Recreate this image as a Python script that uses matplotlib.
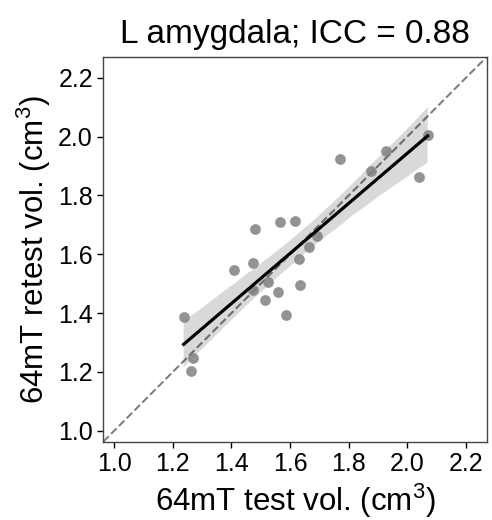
import numpy as np
import matplotlib
matplotlib.use('Agg')
import matplotlib.pyplot as plt
import seaborn as sns

# test / retest volumes (cm^3), left amygdala
test_vol = [1.237, 1.269, 1.262, 1.410, 1.475, 1.480, 1.474, 1.514, 1.526, 1.558, 1.587,
            1.634, 1.632, 1.664, 1.693, 1.567, 1.615, 1.771, 1.877, 1.928, 2.040, 2.069]
retest_vol = [1.385, 1.246, 1.202, 1.546, 1.570, 1.685, 1.477, 1.443, 1.506, 1.472, 1.392,
              1.495, 1.585, 1.624, 1.661, 1.709, 1.712, 1.922, 1.882, 1.950, 1.864, 2.005]
ticks = [1.0, 1.2, 1.4, 1.6, 1.8, 2.0, 2.2]
lims = (0.963, 2.27)

plt.rcParams['font.family'] = ['Liberation Sans', 'DejaVu Sans']
plt.rcParams['mathtext.default'] = 'regular'

fig = plt.figure(figsize=(4.92, 5.2), dpi=100)
ax = fig.add_axes([0.21, 0.1506, 0.779, 0.7397])

ax.plot(lims, lims, linestyle='--', color='gray', linewidth=1.5, zorder=1)
sns.regplot(x=np.array(test_vol), y=np.array(retest_vol), ax=ax, seed=0,
            scatter_kws={'color': 'gray', 'alpha': 0.85, 's': 60, 'linewidths': 0, 'zorder': 2},
            line_kws={'color': 'black', 'linewidth': 2.3, 'zorder': 3})

ax.set_xlim(lims)
ax.set_ylim(lims)
ax.set_xticks(ticks)
ax.set_yticks(ticks)
ax.tick_params(labelsize=18, length=4, width=1)
for s in ax.spines.values():
    s.set_color('#444444')
    s.set_linewidth(1)

ax.set_title('L amygdala; ICC = 0.88', fontsize=24, pad=10)
ax.set_xlabel('64mT test vol. (cm$^3$)', fontsize=22.5)
ax.set_ylabel('64mT retest vol. (cm$^3$)', fontsize=22.5)

fig.savefig('out.png', dpi=100)
